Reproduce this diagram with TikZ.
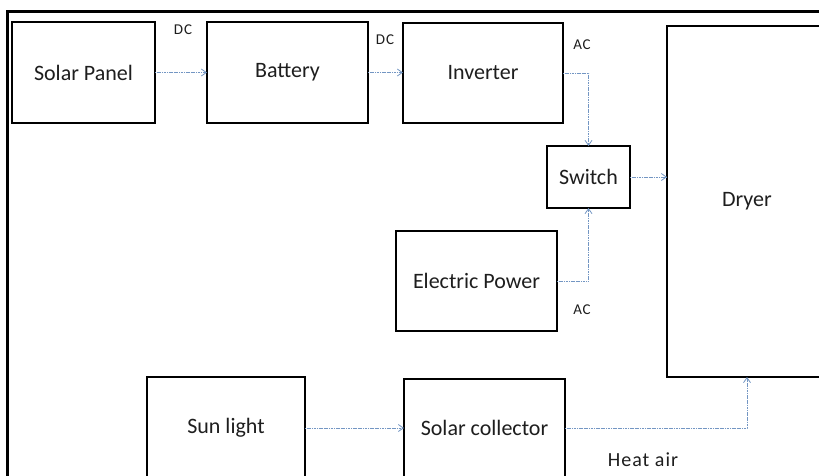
\documentclass[tikz,border=0pt]{standalone}
\usepackage{fontspec}
\setmainfont{Carlito}
\usetikzlibrary{arrows.meta}
\definecolor{arrowblue}{RGB}{115,150,195}
\definecolor{txt}{RGB}{30,30,30}
\begin{document}
\begin{tikzpicture}[x=1pt,y=-1pt,
  box/.style={draw=black, line width=1.8pt, fill=white, inner sep=0pt, outer sep=0pt,
    text=txt, font=\fontsize{22}{24}\selectfont},
  lbl/.style={inner sep=0pt, text=txt, font=\fontsize{15}{17}\selectfont\addfontfeature{LetterSpace=6}},
  arr/.style={draw=arrowblue, line width=0.9pt, dash pattern=on 1.2pt off 0.5pt,
    -{Straight Barb[length=5pt,width=7pt,line width=0.8pt]}}]
\path[use as bounding box] (0,0) rectangle (819,475);
\clip (0,0) rectangle (819,475);
\fill[white] (0,0) rectangle (819,475);
\draw[line width=3pt] (7,11.5) rectangle (840,500);

\node[box, minimum width=143pt, minimum height=101pt] (sp) at (83.5,72.5) {Solar Panel};
\node[box, minimum width=161pt, minimum height=101pt] (bat) at (287.5,72.5) {Battery};
\node[box, minimum width=160pt, minimum height=100pt] (inv) at (483,73) {Inverter};
\node[box, minimum width=83pt, minimum height=62pt] (sw) at (588.5,177) {Switch};
\node[box, minimum width=161pt, minimum height=100pt] (ep) at (476.5,281) {Electric Power};
\node[box, minimum width=160pt, minimum height=351pt] (dry) at (747,201.5) {Dryer};
\node[box, minimum width=158pt, minimum height=102pt] (sun) at (226,428) {Sun light};
\node[box, minimum width=161pt, minimum height=98pt] (sc) at (484.5,428) {Solar collector};

\node[lbl] (dc1) at (183,30) {DC};
\node[lbl] (dc2) at (385,40) {DC};
\node[lbl] (ac1) at (582,45) {AC};
\node[lbl] (ac2) at (582,310) {AC};
\node[inner sep=0pt, text=txt, font=\fontsize{20}{22}\selectfont\addfontfeature{LetterSpace=5}] (heat) at (643,460) {Heat air};

\draw[arr] (sp.east) -- (sp.east -| bat.west);
\draw[arr] (bat.east) -- (bat.east -| inv.west);
\draw[arr] (inv.east) -| (sw.north);
\draw[arr] (ep.east) -| (sw.south);
\draw[arr] (sw.east) -- (sw.east -| dry.west);
\draw[arr] (sun.east) -- (sun.east -| sc.west);
\draw[arr] (sc.east) -| (dry.south);
\end{tikzpicture}
\end{document}
